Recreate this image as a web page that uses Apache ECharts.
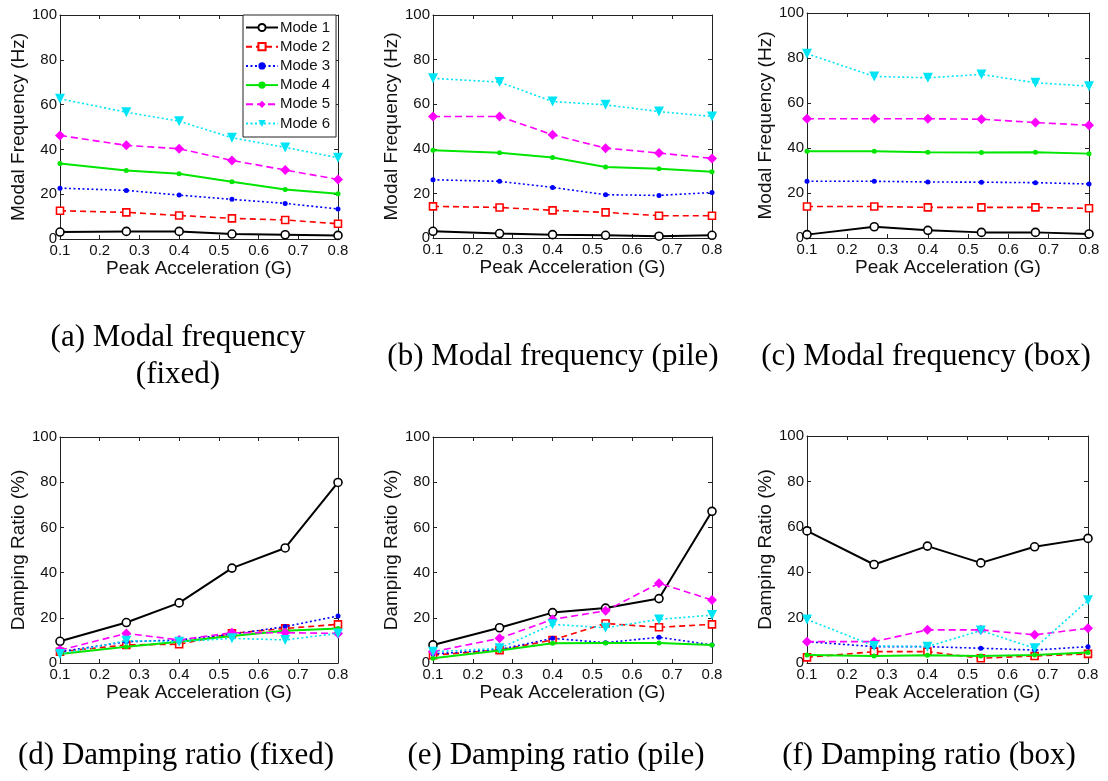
<!DOCTYPE html>
<html>
<head>
<meta charset="utf-8">
<script src="https://cdn.jsdelivr.net/npm/echarts@6/dist/echarts.min.js"></script>
<style>
html,body{margin:0;padding:0;background:#fff;}
#chart{width:1108px;height:781px;}
</style>
</head>
<body>
<div id="chart"></div>
<script>
// ---- data ----
const peakAccel = [0.1, 0.267, 0.4, 0.533, 0.667, 0.8];
const modeNames = ['Mode 1', 'Mode 2', 'Mode 3', 'Mode 4', 'Mode 5', 'Mode 6'];
const xTickValues = [0.1, 0.2, 0.3, 0.4, 0.5, 0.6, 0.7, 0.8];
const yTickValues = [0, 20, 40, 60, 80, 100];

// (a) Modal frequency (fixed) [Hz]
const freqFixed = [
  [3.1, 3.4, 3.4, 2.2, 1.9, 1.6],
  [12.6, 11.9, 10.5, 9.2, 8.5, 6.8],
  [22.7, 21.7, 19.6, 17.7, 15.9, 13.4],
  [33.7, 30.6, 29.1, 25.6, 22.1, 20.2],
  [46.2, 41.8, 40.3, 35.1, 30.8, 26.6],
  [62.6, 56.6, 52.6, 45.2, 40.9, 36.3]
];
// (b) Modal frequency (pile) [Hz]
const freqPile = [
  [3.0, 2.0, 1.5, 1.2, 0.8, 1.2],
  [14.2, 13.7, 12.4, 11.5, 10.0, 10.0],
  [26.1, 25.4, 22.7, 19.4, 19.1, 20.4],
  [39.3, 38.2, 36.1, 31.8, 31.0, 29.7],
  [54.5, 54.5, 46.3, 40.3, 38.1, 35.7],
  [71.6, 69.9, 61.2, 59.7, 56.7, 54.5]
];
// (c) Modal frequency (box) [Hz]
const freqBox = [
  [1.5, 5.0, 3.4, 2.5, 2.5, 1.8],
  [14.0, 14.0, 13.6, 13.6, 13.6, 13.2],
  [25.2, 25.2, 24.9, 24.8, 24.6, 24.0],
  [38.6, 38.6, 38.1, 38.0, 38.1, 37.5],
  [53.0, 53.0, 53.0, 52.8, 51.3, 50.1],
  [81.9, 71.8, 71.2, 72.7, 69.0, 67.5]
];
// (d) Damping ratio (fixed) [%]
const dampFixed = [
  [9.6, 17.9, 26.6, 42.0, 50.9, 79.9],
  [5.0, 8.0, 8.3, 13.1, 15.3, 17.1],
  [5.0, 9.4, 10.2, 12.7, 16.1, 20.8],
  [4.0, 7.2, 9.4, 11.9, 14.3, 15.3],
  [5.7, 13.1, 10.2, 13.4, 13.4, 13.1],
  [4.0, 9.9, 9.4, 10.9, 10.2, 13.1]
];
// (e) Damping ratio (pile) [%]
const dampPile = [
  [8.0, 15.6, 22.3, 24.3, 28.5, 67.1],
  [3.5, 5.7, 10.2, 17.5, 15.8, 17.1],
  [4.0, 6.0, 10.9, 9.0, 11.4, 8.0],
  [2.1, 5.5, 8.7, 8.9, 8.9, 8.0],
  [5.0, 10.9, 19.3, 23.1, 35.3, 27.9],
  [5.0, 6.5, 17.1, 15.6, 19.3, 21.2]
];
// (f) Damping ratio (box) [%]
const dampBox = [
  [58.2, 43.4, 51.5, 44.1, 51.2, 54.9],
  [2.5, 5.0, 5.0, 2.1, 3.1, 4.0],
  [9.4, 7.2, 7.2, 6.5, 5.7, 7.2],
  [3.5, 3.1, 3.4, 3.1, 3.5, 4.6],
  [9.4, 9.4, 14.6, 14.6, 12.4, 15.3],
  [19.2, 7.5, 7.2, 14.3, 6.5, 27.6]
];

const captionTexts = [
  '(a) Modal frequency', '(fixed)',
  '(b) Modal frequency (pile)', '(c) Modal frequency (box)',
  '(d) Damping ratio (fixed)', '(e) Damping ratio (pile)', '(f) Damping ratio (box)'
];

// ---- styles / layout ----
const panels = [
  {vals: freqFixed, yName: 'Modal Frequency (Hz)', left: 60, top: 15, width: 278, height: 224},
  {vals: freqPile,  yName: 'Modal Frequency (Hz)', left: 433, top: 15, width: 279, height: 223},
  {vals: freqBox,   yName: 'Modal Frequency (Hz)', left: 807, top: 13, width: 282, height: 225},
  {vals: dampFixed, yName: 'Damping Ratio (%)', left: 60, top: 437, width: 278, height: 226},
  {vals: dampPile,  yName: 'Damping Ratio (%)', left: 433, top: 437, width: 279, height: 226},
  {vals: dampBox,   yName: 'Damping Ratio (%)', left: 807, top: 436, width: 281, height: 227}
];

const modeStyles = [
  {color: '#000000', type: 'solid', symbol: 'circle', size: 8, hollow: true, rot: 0, width: 2},
  {color: '#ff0000', type: [6, 4], symbol: 'rect', size: 7, hollow: true, rot: 0, width: 1.6},
  {color: '#0000ff', type: [2, 2.5], symbol: 'circle', size: 5, hollow: false, rot: 0, width: 1.6},
  {color: '#00e600', type: 'solid', symbol: 'circle', size: 5, hollow: false, rot: 0, width: 2},
  {color: '#ff00ff', type: [7, 4], symbol: 'diamond', size: 10, hollow: false, rot: 0, width: 1.6},
  {color: '#00e5f5', type: [2, 2.5], symbol: 'triangle', size: 10, hollow: false, rot: 180, width: 1.6}
];

const font = 'Liberation Sans';
const axisColor = '#222';

const grid = [], xAxis = [], yAxis = [], series = [];
panels.forEach((p, gi) => {
  grid.push({left: p.left, top: p.top, width: p.width, height: p.height, containLabel: false});
  const xBase = {
    type: 'value', gridIndex: gi, min: 0.1, max: 0.8, interval: 0.1,
    axisLine: {show: true, onZero: false, lineStyle: {color: axisColor, width: 1}},
    axisTick: {show: true, inside: true, length: 4, lineStyle: {color: axisColor}},
    splitLine: {show: false}
  };
  xAxis.push(Object.assign({}, xBase, {
    position: 'bottom',
    name: 'Peak Acceleration (G)', nameLocation: 'middle', nameGap: 19,
    nameTextStyle: {fontFamily: font, fontSize: 19, color: '#111'},
    axisLabel: {show: true, margin: 4, fontFamily: font, fontSize: 15, color: '#111',
      formatter: v => v.toFixed(1)}
  }));
  xAxis.push(Object.assign({}, xBase, {position: 'top', axisLabel: {show: false}}));
  const yBase = {
    type: 'value', gridIndex: gi, min: 0, max: 100, interval: 20,
    axisLine: {show: true, onZero: false, lineStyle: {color: axisColor, width: 1}},
    axisTick: {show: true, inside: true, length: 4, lineStyle: {color: axisColor}},
    splitLine: {show: false}
  };
  yAxis.push(Object.assign({}, yBase, {
    position: 'left',
    name: p.yName, nameLocation: 'middle', nameGap: 32, nameRotate: 90,
    nameTextStyle: {fontFamily: font, fontSize: 19, color: '#111'},
    axisLabel: {show: true, margin: 3, fontFamily: font, fontSize: 15, color: '#111'}
  }));
  yAxis.push(Object.assign({}, yBase, {position: 'right', axisLabel: {show: false}}));

  p.vals.forEach((vals, mi) => {
    const s = modeStyles[mi];
    series.push({
      type: 'line', name: modeNames[mi],
      xAxisIndex: gi * 2, yAxisIndex: gi * 2,
      data: peakAccel.map((x, i) => [x, vals[i]]),
      symbol: s.symbol, symbolSize: s.size, symbolRotate: s.rot, showSymbol: true,
      lineStyle: {color: s.color, width: s.width, type: s.type},
      itemStyle: {color: s.hollow ? '#ffffff' : s.color, borderColor: s.color, borderWidth: s.hollow ? 1.6 : 0},
      z: 2 + mi,
      animation: false, silent: true
    });
  });
});

const graphic = [
  {x: 178, y: 338, t: captionTexts[0]},
  {x: 178, y: 375, t: captionTexts[1]},
  {x: 553, y: 357, t: captionTexts[2]},
  {x: 926, y: 357, t: captionTexts[3]},
  {x: 176, y: 756, t: captionTexts[4]},
  {x: 556, y: 756, t: captionTexts[5]},
  {x: 929, y: 756, t: captionTexts[6]}
].map(c => ({
  type: 'text', x: c.x, y: c.y, silent: true,
  style: {text: c.t, fill: '#000', font: '31px "Liberation Serif"', align: 'center', verticalAlign: 'middle'}
}));

const chart = echarts.init(document.getElementById('chart'), null, {renderer: 'canvas'});
chart.setOption({
  backgroundColor: '#ffffff',
  animation: false,
  grid, xAxis, yAxis, series, graphic,
  legend: {
    data: modeNames, orient: 'vertical', left: 243, top: 15,
    itemWidth: 32, itemHeight: 9, itemGap: 4.2,
    padding: [5, 6, 6, 2],
    backgroundColor: '#ffffff', borderColor: '#222', borderWidth: 1,
    selectedMode: false,
    textStyle: {fontFamily: font, fontSize: 15, color: '#111', lineHeight: 15, padding: [0, 0, 0, -3]}
  }
});
</script>
</body>
</html>
